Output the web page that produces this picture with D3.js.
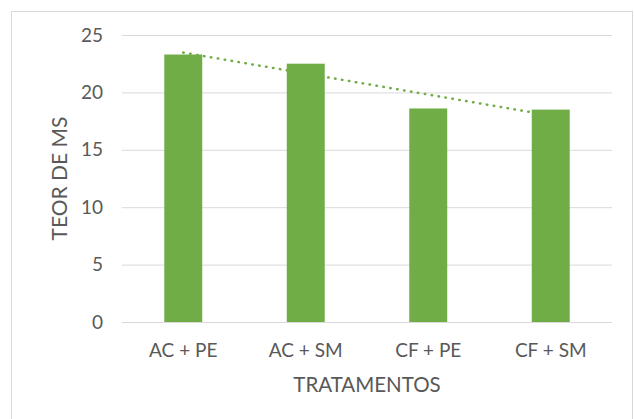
<!DOCTYPE html>
<html>
<head>
<meta charset="utf-8">
<script src="https://cdn.jsdelivr.net/npm/d3@7"></script>
<style>
  body { margin: 0; background: #fff; }
  svg text { font-family: Lato, "Open Sans", sans-serif; fill: #595959; }
</style>
</head>
<body>
<div id="chart"></div>
<script>
var categories = ["AC + PE", "AC + SM", "CF + PE", "CF + SM"];
var teorMS = [23.3, 22.5, 18.6, 18.5];
var yTicks = [0, 5, 10, 15, 20, 25];

var W = 634, H = 419;
var margin = { left: 122, right: 22, top: 35, bottom: 97 };

var svg = d3.select("#chart").append("svg")
    .attr("width", W)
    .attr("height", H);

// chart frame
svg.append("rect")
    .attr("x", 11.5).attr("y", 11.5)
    .attr("width", W - 13).attr("height", H)
    .attr("fill", "none")
    .attr("stroke", "#d9d9d9");

var x = d3.scaleBand()
    .domain(categories)
    .range([margin.left, W - margin.right])
    .paddingInner(0.69)
    .paddingOuter(0.345);

var y = d3.scaleLinear()
    .domain([0, 25])
    .range([H - margin.bottom, margin.top]);

// gridlines
svg.append("g")
    .attr("transform", "translate(" + margin.left + ",0)")
    .call(d3.axisLeft(y).tickValues(yTicks).tickSize(-(W - margin.right - margin.left)).tickFormat(""))
    .call(function (g) { g.select(".domain").remove(); })
    .selectAll("line")
    .attr("stroke", "#d9d9d9");

// y labels
svg.append("g")
    .attr("transform", "translate(" + (margin.left - 19) + ",0)")
    .call(d3.axisLeft(y).tickValues(yTicks).tickSize(0).tickPadding(0))
    .call(function (g) { g.select(".domain").remove(); })
    .selectAll("text")
    .style("font-size", "19px");

// bars
svg.selectAll("rect.bar")
    .data(teorMS)
    .enter()
    .append("rect")
    .attr("class", "bar")
    .attr("x", function (d, i) { return x(categories[i]); })
    .attr("y", function (d) { return y(d); })
    .attr("width", x.bandwidth())
    .attr("height", function (d) { return y(0) - y(d); })
    .attr("fill", "#70ad47");

// x labels
svg.append("g")
    .attr("transform", "translate(0," + (y(0) + 35) + ")")
    .call(d3.axisBottom(x).tickSize(0).tickPadding(0))
    .call(function (g) { g.select(".domain").remove(); })
    .selectAll("text")
    .attr("dy", 0)
    .style("font-size", "19px");

// linear trendline
var n = teorMS.length;
var mx = d3.mean(teorMS, function (d, i) { return i + 1; });
var my = d3.mean(teorMS);
var sxy = d3.sum(teorMS, function (d, i) { return (i + 1 - mx) * (d - my); });
var sxx = d3.sum(teorMS, function (d, i) { return (i + 1 - mx) * (i + 1 - mx); });
var slope = sxy / sxx, icpt = my - slope * mx;
var trend = [1, n].map(function (k) { return { c: categories[k - 1], v: icpt + slope * k }; });

svg.append("path")
    .datum(trend)
    .attr("d", d3.line()
        .x(function (d) { return x(d.c) + x.bandwidth() / 2; })
        .y(function (d) { return y(d.v); }))
    .attr("fill", "none")
    .attr("stroke", "#70ad47")
    .attr("stroke-width", 2.5)
    .attr("stroke-linecap", "round")
    .attr("stroke-dasharray", "0.5 6.5");

// axis titles
svg.append("text")
    .attr("x", (margin.left + W - margin.right) / 2)
    .attr("y", 392)
    .attr("text-anchor", "middle")
    .style("font-size", "20.5px")
    .text("TRATAMENTOS");

svg.append("text")
    .attr("transform", "translate(67," + ((y(0) + y(25)) / 2) + ") rotate(-90)")
    .attr("text-anchor", "middle")
    .style("font-size", "21px")
    .text("TEOR DE MS");
</script>
</body>
</html>
